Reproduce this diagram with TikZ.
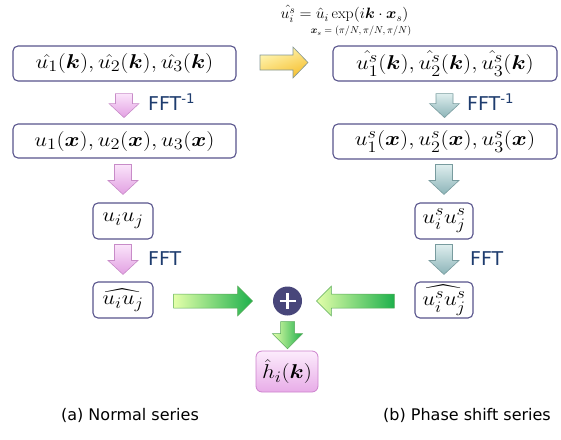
\RequirePackage{fix-cm}
\documentclass[tikz,border=0pt]{standalone}
\usepackage{amsmath}
\usepackage{bm}
\usepackage{graphicx}
\usepackage{fontspec}
\newfontfamily\capfont{DejaVu Sans}
\usetikzlibrary{calc}
\DeclareMathSizes{20}{20}{16}{12}
\newcommand{\bx}[1]{\scalebox{1.14}[1]{$#1$}}
\definecolor{boxc}{RGB}{88,84,140}
\definecolor{fftc}{RGB}{30,60,110}
\definecolor{pinkA}{RGB}{250,228,250}
\definecolor{pinkB}{RGB}{226,160,226}
\definecolor{pinkD}{RGB}{200,140,200}
\definecolor{tealA}{RGB}{222,238,238}
\definecolor{tealB}{RGB}{140,180,184}
\definecolor{tealD}{RGB}{120,155,158}
\definecolor{greenA}{RGB}{228,255,170}
\definecolor{greenB}{RGB}{30,176,76}
\definecolor{greenD}{RGB}{90,170,90}
\definecolor{yelA}{RGB}{255,248,185}
\definecolor{yelB}{RGB}{246,192,48}
\definecolor{yelD}{RGB}{130,150,150}
\definecolor{plusc}{RGB}{72,70,122}
\definecolor{hA}{RGB}{252,236,252}
\definecolor{hB}{RGB}{232,172,232}
\definecolor{hD}{RGB}{205,130,205}
\begin{document}
\begin{tikzpicture}[x=1pt,y=-1pt,
  box/.style={draw=boxc, line width=1.1pt, rounded corners=5pt, fill=white, inner sep=0pt,
    font=\fontsize{20}{24}\selectfont},
  fftlab/.style={text=fftc, font=\capfont\fontsize{19}{22}\selectfont, inner sep=0pt},
  caplab/.style={font=\capfont\fontsize{16}{19}\selectfont, inner sep=0pt},
  pinkarr/.style={draw=pinkD, line width=0.6pt, top color=pinkA, bottom color=pinkB},
  tealarr/.style={draw=tealD, line width=0.6pt, top color=tealA, bottom color=tealB},
  pics/downarr/.style={code={\path[pic actions] (-8.5,0) -- (8.5,0) -- (8.5,#1-14) -- (15,#1-14) -- (0,#1) -- (-15,#1-14) -- (-8.5,#1-14) -- cycle;}},
  pics/rightarr/.style={code={\path[pic actions] (0,-7) -- (#1-15,-7) -- (#1-15,-15) -- (#1,0) -- (#1-15,15) -- (#1-15,7) -- (0,7) -- cycle;}},
]
\useasboundingbox (0,0) rectangle (561,439);

% top formula
\node[inner sep=0pt, font=\fontsize{15}{17}\selectfont] (f1) at (344.5,14) {\scalebox{1.05}[1]{$\hat{u_i^s} = \hat{u}_i \exp(i\bm{k}\cdot\bm{x}_s)$}};
\node[inner sep=0pt, font=\fontsize{10}{12}\selectfont] (f2) at (361,31) {$\bm{x}_s = (\pi/N,\pi/N,\pi/N)$};

% left column
\node[box, minimum width=223pt, minimum height=35pt] (a1) at (124.5,63.5) {\bx{\hat{u_1}(\bm k), \hat{u_2}(\bm k), \hat{u_3}(\bm k)}};
\node[box, minimum width=223pt, minimum height=34pt] (a2) at (124.5,141) {\bx{u_1(\bm x), u_2(\bm x), u_3(\bm x)}};
\node[box, minimum width=60pt, minimum height=36pt] (a3) at (123,221) {\bx{u_i u_j}};
\node[box, minimum width=60pt, minimum height=36pt] (a4) at (123,300) {\bx{\widehat{u_i u_j}}};

% right column
\node[box, minimum width=224pt, minimum height=35pt] (b1) at (445,63.5) {\bx{\hat{u_1^s}(\bm k), \hat{u_2^s}(\bm k), \hat{u_3^s}(\bm k)}};
\node[box, minimum width=224pt, minimum height=35pt] (b2) at (445,141.5) {\bx{u_1^s(\bm x), u_2^s(\bm x), u_3^s(\bm x)}};
\node[box, minimum width=58pt, minimum height=36pt] (b3) at (444,221) {\bx{u_i^s u_j^s}};
\node[box, minimum width=58pt, minimum height=36pt] (b4) at (444,300) {\bx{\widehat{u_i^s u_j^s}}};

% sum and result
\node[circle, fill=plusc, minimum size=29pt, inner sep=0pt] (plus) at (287.5,301) {};
\draw[white, line width=2.6pt] ($(plus.center)+(-8,0)$) -- ($(plus.center)+(8,0)$);
\draw[white, line width=2.6pt] ($(plus.center)+(0,-8)$) -- ($(plus.center)+(0,8)$);
\node[draw=hD, line width=0.8pt, rounded corners=6pt, top color=hA, bottom color=hB,
  minimum width=62pt, minimum height=41pt, inner sep=0pt, font=\fontsize{20}{24}\selectfont] (h) at (287,371.5) {\bx{\hat{h}_i(\bm k)}};

% pink arrows
\pic[pinkarr] at ($(a1.south)+(-0.5,12)$) {downarr=24};
\pic[pinkarr] at ($(a3.north)+(0,-38)$) {downarr=30};
\pic[pinkarr] at ($(a4.north)+(0,-37)$) {downarr=30};
% teal arrows
\pic[tealarr] at ($(b1.south)+(-0.5,12)$) {downarr=24};
\pic[tealarr] at ($(b3.north)+(0,-38)$) {downarr=30};
\pic[tealarr] at ($(b4.north)+(0,-37)$) {downarr=30};

% FFT labels
\node[fftlab, anchor=west] (l1) at (148,102) {FFT\textsuperscript{-1}};
\node[fftlab, anchor=west] (l2) at (148,259) {FFT};
\node[fftlab, anchor=west] (r1) at (467,102) {FFT\textsuperscript{-1}};
\node[fftlab, anchor=west] (r2) at (470,259) {FFT};

% yellow arrow
\path[draw=yelD, line width=0.6pt, top color=yelA, bottom color=yelB, shading angle=20]
  (260,55) -- (293,55) -- (293,47) -- (308,62.5) -- (293,78) -- (293,70) -- (260,70) -- cycle;

% green arrows
\pic[draw=greenD, line width=0.5pt, left color=greenA, right color=greenB] at ($(a4.east)+(20,1)$) {rightarr=79};
\pic[draw=greenD, line width=0.5pt, left color=greenA, right color=greenB, rotate=180] at ($(b4.west)+(-20,1)$) {rightarr=78};
\pic[draw=greenD, line width=0.5pt, left color=greenA, right color=greenB, rotate=-90] at ($(plus.south)+(0,6)$) {rightarr=27};

% captions
\node[caplab] (ca) at (130,415) {(a) Normal series};
\node[caplab] (cb) at (467,415) {(b) Phase shift series};
\end{tikzpicture}
\end{document}
